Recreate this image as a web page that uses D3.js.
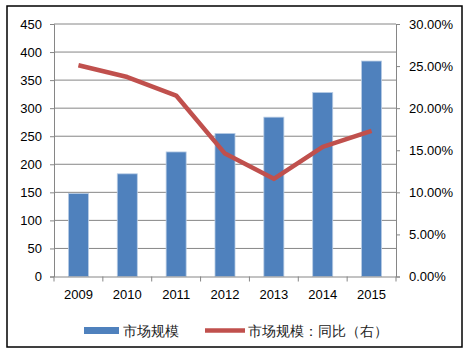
<!DOCTYPE html>
<html lang="zh">
<head>
<meta charset="UTF-8">
<title>市场规模</title>
<style>
  body { margin: 0; background: #fff; }
  text { font-family: "Liberation Sans", Arial, sans-serif; }
</style>
</head>
<body>
<svg id="chart"></svg>
<script src="https://d3js.org/d3.v7.min.js"></script>
<script>
// data
const years = ['2009', '2010', '2011', '2012', '2013', '2014', '2015'];
const marketSize = [148, 183, 222, 255, 284, 328, 384];
const yoy = [25.1, 23.7, 21.5, 14.6, 11.6, 15.4, 17.3];
const leftTicks = [0, 50, 100, 150, 200, 250, 300, 350, 400, 450];
const rightTicks = [0, 5, 10, 15, 20, 25, 30];
const legendLabels = ['市场规模', '市场规模：同比（右）'];

const W = 470, H = 353;
const margin = { top: 24, left: 54, right: 74, bottom: 76.5 };
const svg = d3.select('#chart').attr('width', W).attr('height', H);

// outer frame
svg.append('rect')
  .attr('x', 7).attr('y', 6).attr('width', 455).attr('height', 341)
  .attr('fill', '#fff').attr('stroke', '#000').attr('stroke-width', 1.5);

const x = d3.scaleBand()
  .domain(years)
  .range([margin.left, W - margin.right])
  .paddingInner(0.59).paddingOuter(0.295);

const band = d3.scaleBand().domain(years).range([margin.left, W - margin.right]);

const yL = d3.scaleLinear().domain([0, 450]).range([H - margin.bottom, margin.top]);
const yR = d3.scaleLinear().domain([0, 30]).range([H - margin.bottom, margin.top]);

// gridlines
svg.append('g')
  .selectAll('line')
  .data(leftTicks.slice(1))
  .join('line')
  .attr('x1', margin.left).attr('x2', W - margin.right)
  .attr('y1', d => yL(d)).attr('y2', d => yL(d))
  .attr('stroke', '#868686').attr('stroke-width', 1);

// bars
svg.append('g')
  .selectAll('rect')
  .data(marketSize)
  .join('rect')
  .attr('x', (d, i) => x(years[i]))
  .attr('y', d => yL(d))
  .attr('width', x.bandwidth())
  .attr('height', d => yL(0) - yL(d))
  .attr('fill', '#4F81BD')
  .attr('stroke', '#B9CDE5')
  .attr('stroke-width', 0.8);

// left axis
const axL = svg.append('g')
  .attr('transform', `translate(${margin.left},0)`)
  .call(d3.axisLeft(yL).tickValues(leftTicks).tickSize(4).tickPadding(8));
axL.selectAll('text').attr('font-size', 13).attr('fill', '#000')
  .attr('font-family', '"Liberation Sans", Arial, sans-serif');

// right axis
const axR = svg.append('g')
  .attr('transform', `translate(${W - margin.right},0)`)
  .call(d3.axisRight(yR).tickValues(rightTicks).tickSize(4).tickPadding(9)
    .tickFormat(d => d.toFixed(2) + '%'));
axR.selectAll('text').attr('font-size', 13).attr('fill', '#000')
  .attr('font-family', '"Liberation Sans", Arial, sans-serif');

// bottom axis
const axB = svg.append('g')
  .attr('transform', `translate(0,${yL(0)})`)
  .call(d3.axisBottom(band).tickSize(0).tickPadding(13));
axB.selectAll('text').attr('font-size', 13).attr('fill', '#000')
  .attr('font-family', '"Liberation Sans", Arial, sans-serif');
// tick marks at band boundaries
axB.append('g')
  .selectAll('line')
  .data(years.map(d => band(d)).concat([W - margin.right]))
  .join('line')
  .attr('x1', d => d).attr('x2', d => d)
  .attr('y1', 0).attr('y2', 5)
  .attr('stroke', '#868686');

[axL, axR, axB].forEach(a => {
  a.selectAll('.domain').attr('stroke', '#868686');
  a.selectAll('.tick line').attr('stroke', '#868686');
});

// line
const line = d3.line()
  .x((d, i) => band(years[i]) + band.bandwidth() / 2)
  .y(d => yR(d));
svg.append('path')
  .datum(yoy)
  .attr('d', line)
  .attr('fill', 'none')
  .attr('stroke', '#C0504D')
  .attr('stroke-width', 4.5)
  .attr('stroke-linejoin', 'round');

// legend
const lg = svg.append('g').attr('font-family', '"Noto Sans CJK SC", sans-serif')
  .attr('font-size', 14).attr('fill', '#222');
lg.append('rect').attr('x', 84).attr('y', 327).attr('width', 35).attr('height', 7)
  .attr('fill', '#4F81BD');
lg.append('text').attr('x', 123).attr('y', 335.5).text(legendLabels[0]);
lg.append('line').attr('x1', 205).attr('x2', 245).attr('y1', 330.5).attr('y2', 330.5)
  .attr('stroke', '#C0504D').attr('stroke-width', 4.5);
lg.append('text').attr('x', 248).attr('y', 335.5)
  .attr('textLength', 140).attr('lengthAdjust', 'spacing')
  .text(legendLabels[1]);
</script>
</body>
</html>
